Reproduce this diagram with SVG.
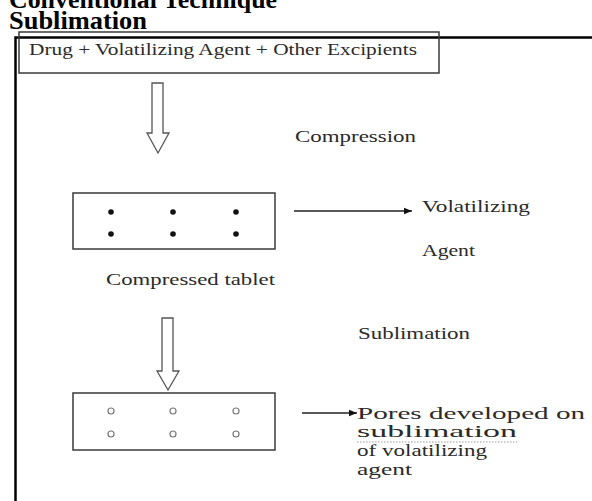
<svg xmlns="http://www.w3.org/2000/svg" width="592" height="501" viewBox="0 0 592 501">
<style>
.title{font-weight:bold;font-size:25px;fill:#000}
.t{font-size:16px;fill:#2a2a2a}
.tb{font-size:17px;fill:#2a2a2a}
.box{fill:none;stroke:#3a3a3a;stroke-width:1.5}
.frame{stroke:#000;stroke-width:2.5;fill:none}
.hollow{fill:#fff;stroke:#555;stroke-width:1.3}
.line{stroke:#222;stroke-width:1.3;fill:none}
.dot{fill:#111}
.pore{fill:none;stroke:#777;stroke-width:1.2}
</style>
<defs>
<marker id="ah" viewBox="0 0 10 10" refX="10" refY="5" markerWidth="10" markerHeight="8" markerUnits="userSpaceOnUse" orient="auto">
<path d="M0,1 L10,5 L0,9 Z" fill="#111"/>
</marker>
</defs>
<rect width="592" height="501" fill="#fff"/>
<g font-family="'Liberation Serif', 'DejaVu Serif', serif">
<text class="title" x="9" y="8" textLength="268" lengthAdjust="spacingAndGlyphs">Conventional Technique</text>
<text class="title" x="9" y="29" textLength="138" lengthAdjust="spacingAndGlyphs">Sublimation</text>
<g id="frame">
<path class="frame" d="M15.5,501 V37.5 H592"/>
</g>
<g id="start">
<rect class="box" x="19" y="32" width="420" height="41"/>
<text class="t" x="29" y="55" textLength="388" lengthAdjust="spacingAndGlyphs">Drug + Volatilizing Agent + Other Excipients</text>
</g>
<g id="compression">
<text class="t" x="295" y="142" textLength="121" lengthAdjust="spacingAndGlyphs">Compression</text>
</g>
<g id="tablet1">
<rect class="box" x="73" y="193" width="202" height="56"/>
<circle class="dot" cx="111" cy="212" r="2.8"/>
<circle class="dot" cx="173" cy="212" r="2.8"/>
<circle class="dot" cx="236" cy="212" r="2.8"/>
<circle class="dot" cx="111" cy="234" r="2.8"/>
<circle class="dot" cx="173" cy="234" r="2.8"/>
<circle class="dot" cx="236" cy="234" r="2.8"/>
</g>
<g id="volatilizing">
<text class="t" x="422" y="212" textLength="108" lengthAdjust="spacingAndGlyphs">Volatilizing</text>
<text class="t" x="422" y="256" textLength="53" lengthAdjust="spacingAndGlyphs">Agent</text>
</g>
<g id="compressed-label">
<text class="t" x="106" y="285" textLength="169" lengthAdjust="spacingAndGlyphs">Compressed tablet</text>
</g>
<g id="sublimation-label">
<text class="t" x="358" y="339" textLength="112" lengthAdjust="spacingAndGlyphs">Sublimation</text>
</g>
<g id="tablet2">
<rect class="box" x="73" y="393" width="202" height="57"/>
<circle class="pore" cx="111" cy="411" r="3"/>
<circle class="pore" cx="173" cy="411" r="3"/>
<circle class="pore" cx="236" cy="411" r="3"/>
<circle class="pore" cx="111" cy="434" r="3"/>
<circle class="pore" cx="173" cy="434" r="3"/>
<circle class="pore" cx="236" cy="434" r="3"/>
</g>
<g id="pores">
<text class="tb" x="357" y="419" textLength="228" lengthAdjust="spacingAndGlyphs">Pores developed on</text>
<text class="tb" x="357" y="437" textLength="160" lengthAdjust="spacingAndGlyphs">sublimation</text>
<line x1="357" y1="442" x2="517" y2="442" stroke="#999" stroke-width="1" stroke-dasharray="1.5,1.5"/>
<text class="tb" x="357" y="456" textLength="130" lengthAdjust="spacingAndGlyphs">of volatilizing</text>
<text class="tb" x="357" y="475" textLength="55" lengthAdjust="spacingAndGlyphs">agent</text>
</g>
</g>
<g id="connectors">
<path class="hollow" d="M152,83 H163 V133 H169 L158,153 L147,133 H152 Z"/>
<path class="hollow" d="M162,318 H173 V371 H179 L168,390 L157,371 H162 Z"/>
<line class="line" x1="294" y1="211" x2="412" y2="211" marker-end="url(#ah)"/>
<line class="line" x1="302" y1="413" x2="357" y2="413" marker-end="url(#ah)"/>
</g>
</svg>
